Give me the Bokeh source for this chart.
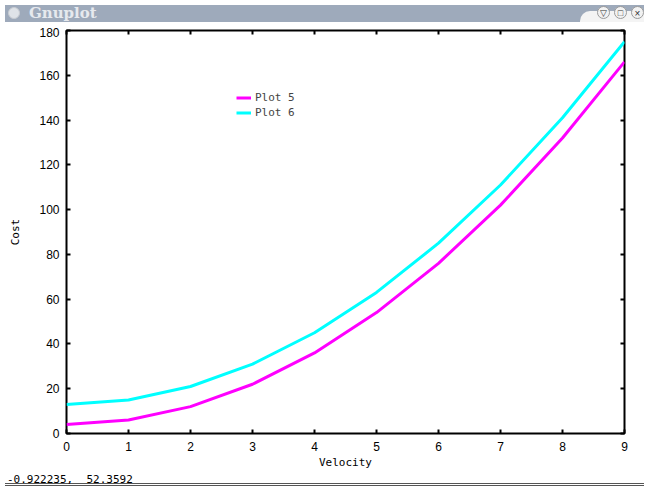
from bokeh.plotting import figure
from bokeh.models import (Range1d, FixedTicker, LinearAxis, Legend, LegendItem, Div)
from bokeh.layouts import column
from bokeh.embed import file_html
from bokeh.resources import INLINE

# ---- data ----
velocity = [0, 1, 2, 3, 4, 5, 6, 7, 8, 9]
plot5 = [4, 6, 12, 22, 36, 54, 76, 102, 132, 166]
plot6 = [13, 15, 21, 31, 45, 63, 85, 111, 141, 175]
x_ticks = [0, 1, 2, 3, 4, 5, 6, 7, 8, 9]
y_ticks = [0, 20, 40, 60, 80, 100, 120, 140, 160, 180]
window_title = "Gnuplot"
status_text = "-0.922235,  52.3592"

MONO = "DejaVu Sans Mono"
SANS = "Liberation Sans"
W = 639

title_html = (
    '<div style="position:relative;width:' + str(W) + 'px;height:17px;background:#9eaabb;'
    'overflow:hidden;">'
    '<div style="position:absolute;left:3px;top:2px;width:12px;height:12px;'
    'border-radius:7px;background:#dfe3e8;border:1px solid #c8ccd2;"></div>'
    '<div style="position:absolute;left:24px;top:-2px;font-family:\'DejaVu Serif\';'
    'font-weight:bold;font-size:15px;color:#e6e9ee;">' + window_title + '</div>'
    '<div style="position:absolute;left:575px;top:6px;width:80px;height:12px;'
    'background:#f4f4f4;border-top-left-radius:10px;"></div>'
    '<div style="position:absolute;left:592px;top:1px;width:13px;height:13px;'
    'border-radius:8px;background:#f2f2f2;border:1px solid #9a9a9a;font-size:9px;'
    'line-height:13px;text-align:center;color:#333;">&#9661;</div>'
    '<div style="position:absolute;left:609px;top:1px;width:13px;height:13px;'
    'border-radius:8px;background:#f2f2f2;border:1px solid #9a9a9a;font-size:9px;'
    'line-height:13px;text-align:center;color:#333;">&#9633;</div>'
    '<div style="position:absolute;left:626px;top:1px;width:13px;height:13px;'
    'border-radius:8px;background:#f2f2f2;border:1px solid #9a9a9a;font-size:10px;'
    'line-height:13px;text-align:center;color:#333;">&#215;</div>'
    '</div>'
)
title_bar = Div(text=title_html, width=W, height=17)

p = figure(width=W, height=444, output_backend="svg", toolbar_location=None,
           x_range=Range1d(0, 9), y_range=Range1d(0, 180),
           min_border_left=66, min_border_right=15,
           min_border_top=3, min_border_bottom=38,
           x_axis_label="Velocity", y_axis_label="Cost")
p.xgrid.visible = False
p.ygrid.visible = False
p.outline_line_color = "black"
p.outline_line_width = 2
p.background_fill_color = "white"
p.border_fill_color = "white"

p.xaxis.ticker = FixedTicker(ticks=x_ticks)
p.yaxis.ticker = FixedTicker(ticks=y_ticks)

for ax in (p.xaxis[0], p.yaxis[0]):
    ax.axis_line_color = None
    ax.major_tick_in = 4
    ax.major_tick_out = 0
    ax.major_tick_line_width = 2
    ax.major_tick_line_color = "black"
    ax.minor_tick_line_color = None
    ax.major_label_text_font = SANS
    ax.major_label_text_font_size = "12px"
    ax.major_label_text_color = "black"
    ax.axis_label_text_font = MONO
    ax.axis_label_text_font_size = "11px"
    ax.axis_label_text_font_style = "normal"
    ax.axis_label_text_color = "black"
p.xaxis.major_label_standoff = 8
p.xaxis.axis_label_standoff = 2
p.yaxis.major_label_standoff = 7
p.yaxis.axis_label_standoff = 14

top_ax = LinearAxis(ticker=FixedTicker(ticks=x_ticks))
right_ax = LinearAxis(ticker=FixedTicker(ticks=y_ticks))
for ax in (top_ax, right_ax):
    ax.axis_line_color = None
    ax.major_tick_in = 4
    ax.major_tick_out = 0
    ax.major_tick_line_width = 2
    ax.minor_tick_line_color = None
    ax.major_label_text_font_size = "0px"
    ax.major_label_text_color = None
    ax.major_label_standoff = 0
p.add_layout(top_ax, "above")
p.add_layout(right_ax, "right")

r5 = p.line(velocity, plot5, line_color="#ff00ff", line_width=3)
r6 = p.line(velocity, plot6, line_color="#00ffff", line_width=3)

legend = Legend(items=[LegendItem(label="Plot 5", renderers=[r5]),
                       LegendItem(label="Plot 6", renderers=[r6])],
                location=(170, 313), border_line_color=None,
                background_fill_alpha=0, padding=0, margin=0, spacing=0,
                glyph_width=15, glyph_height=15, label_height=15,
                label_standoff=4, label_text_font=MONO,
                label_text_font_size="11px")
p.add_layout(legend, "center")

status_html = (
    '<div style="position:relative;top:-5px;width:' + str(W) + 'px;height:12px;'
    'border-bottom:3px double #555;'
    'font-family:\'DejaVu Sans Mono\';font-size:11px;line-height:12px;color:black;'
    'white-space:pre;padding-left:2px;box-sizing:border-box;">'
    + status_text + '</div>'
)
status_bar = Div(text=status_html, width=W, height=12)

layout = column(title_bar, p, status_bar, spacing=0)
open("out.html", "w").write(file_html(layout, INLINE))
